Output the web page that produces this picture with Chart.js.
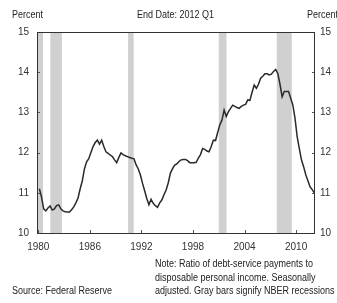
<!DOCTYPE html>
<html>
<head>
<meta charset="utf-8">
<script src="https://cdn.jsdelivr.net/npm/chart.js@4"></script>
<style>
    body { margin: 0; background: #fff; }
    #wrap { position: relative; width: 337px; height: 303px; overflow: hidden; font-family: 'Liberation Sans Narrow', 'Liberation Sans', sans-serif; color: #222; }
    canvas { position: absolute; left: 0; top: 0; }
    .txt { position: absolute; font-size: 10px; line-height: 13.7px; white-space: nowrap; transform: scaleX(0.9); transform-origin: left top; }
</style>
</head>
<body>
<div id="wrap">
    <canvas id="chart" width="337" height="303"></canvas>
    <div class="txt" style="left:12px; top:8px;">Percent</div>
    <div class="txt" style="left:137px; top:8px;">End Date: 2012 Q1</div>
    <div class="txt" style="left:307px; top:8px;">Percent</div>
    <div class="txt" style="left:155px; top:257px;">Note: Ratio of debt-service payments to<br>disposable personal income. Seasonally<br>adjusted. Gray bars signify NBER recessions</div>
    <div class="txt" style="left:12px; top:284px;">Source: Federal Reserve</div>
</div>
<script>
// quarterly values, 1980 Q1 .. 2012 Q1
const startYear = 1980;
const debtService = [
    11.1, 10.9, 10.6, 10.55,
    10.62, 10.67, 10.57, 10.6,
    10.68, 10.7, 10.6, 10.55,
    10.53, 10.52, 10.52, 10.58,
    10.65, 10.75, 10.87, 11.1,
    11.3, 11.6, 11.77, 11.85,
    12.0, 12.15, 12.25, 12.31,
    12.21, 12.31, 12.15, 12.02,
    11.98, 11.94, 11.9, 11.82,
    11.75, 11.88, 11.99, 11.95,
    11.92, 11.9, 11.88, 11.86,
    11.85, 11.7, 11.6, 11.45,
    11.24, 11.05, 10.86, 10.7,
    10.84, 10.74, 10.68, 10.64,
    10.75, 10.82, 10.95, 11.07,
    11.25, 11.49, 11.6, 11.69,
    11.72, 11.78, 11.82, 11.83,
    11.83, 11.8, 11.75, 11.75,
    11.75, 11.76, 11.86, 11.95,
    12.1, 12.08, 12.04, 12.02,
    12.15, 12.31, 12.3, 12.5,
    12.69, 12.81, 13.06, 12.9,
    13.02, 13.1, 13.18, 13.15,
    13.12, 13.1, 13.15, 13.18,
    13.2, 13.31, 13.3, 13.5,
    13.68, 13.6, 13.7, 13.85,
    13.9, 13.96, 13.96, 13.93,
    13.95, 14.02, 14.07, 13.97,
    13.7, 13.39, 13.52, 13.52,
    13.52, 13.35, 13.18, 12.85,
    12.4, 12.1, 11.82, 11.65,
    11.45, 11.3, 11.15, 11.08,
    11.0
];
// NBER recessions (fractional years)
const recessionStart = [1979.9, 1981.4, 1990.45, 2001.0, 2007.75];
const recessionEnd = [1980.55, 1982.75, 1991.1, 2001.9, 2009.5];
const yearTicks = [1980, 1986, 1992, 1998, 2004, 2010];
const pctTicks = [10, 11, 12, 13, 14, 15];

const points = debtService.map((v, i) => ({ x: startYear + i / 4 + 0.125, y: v }));

const recessionBars = {
    id: 'recessionBars',
    beforeDatasetsDraw(chart) {
        const { ctx, chartArea, scales } = chart;
        ctx.save();
        ctx.fillStyle = '#d0d0d0';
        for (let i = 0; i < recessionStart.length; i++) {
            const x0 = Math.max(scales.x.getPixelForValue(recessionStart[i]), chartArea.left);
            const x1 = scales.x.getPixelForValue(recessionEnd[i]);
            ctx.fillRect(x0, chartArea.top, x1 - x0, chartArea.bottom - chartArea.top);
        }
        ctx.restore();
    }
};

// small tick marks pointing into the plot, plus the frame
const frame = {
    id: 'frame',
    afterDatasetsDraw(chart) {
        const { ctx, chartArea, scales } = chart;
        ctx.save();
        ctx.strokeStyle = '#555';
        ctx.lineWidth = 1;
        ctx.beginPath();
        yearTicks.forEach(t => {
            const x = Math.round(scales.x.getPixelForValue(t)) + 0.5;
            ctx.moveTo(x, chartArea.bottom);
            ctx.lineTo(x, chartArea.bottom - 3);
        });
        pctTicks.forEach(t => {
            const y = Math.round(scales.y.getPixelForValue(t)) + 0.5;
            ctx.moveTo(chartArea.left, y);
            ctx.lineTo(chartArea.left + 3, y);
            ctx.moveTo(chartArea.right, y);
            ctx.lineTo(chartArea.right - 3, y);
        });
        ctx.stroke();
        ctx.strokeStyle = '#333';
        ctx.strokeRect(chartArea.left + 0.5, chartArea.top + 0.5, chartArea.right - chartArea.left - 1, chartArea.bottom - chartArea.top);
        ctx.restore();
    }
};

const tickFont = { family: "'Liberation Sans Narrow', 'Liberation Sans', sans-serif", size: 10 };

new Chart(document.getElementById('chart'), {
    type: 'line',
    data: {
        datasets: [{
            data: points,
            borderColor: '#2a2a2a',
            borderWidth: 1.5,
            pointRadius: 0,
            tension: 0,
            fill: false
        }]
    },
    options: {
        responsive: false,
        animation: false,
        layout: { padding: { top: 32, bottom: 45, left: 0, right: 0 } },
        plugins: { legend: { display: false }, tooltip: { enabled: false } },
        scales: {
            x: {
                type: 'linear',
                min: 1979.85,
                max: 2012.2,
                afterBuildTicks: s => { s.ticks = yearTicks.map(v => ({ value: v })); },
                ticks: { color: '#333', font: tickFont, padding: 8, callback: v => String(v) },
                grid: { display: false, drawTicks: false },
                border: { display: false },
                afterFit: s => { s.height = 25; }
            },
            y: {
                position: 'left',
                min: 10,
                max: 15,
                afterBuildTicks: s => { s.ticks = pctTicks.map(v => ({ value: v })); },
                ticks: { color: '#333', font: tickFont, padding: 8 },
                grid: { display: false, drawTicks: false },
                border: { display: false },
                afterFit: s => { s.width = 37; }
            },
            y2: {
                position: 'right',
                min: 10,
                max: 15,
                afterBuildTicks: s => { s.ticks = pctTicks.map(v => ({ value: v })); },
                ticks: { color: '#333', font: tickFont, padding: 5 },
                grid: { display: false, drawTicks: false },
                border: { display: false },
                afterFit: s => { s.width = 22; }
            }
        }
    },
    plugins: [recessionBars, frame]
});
</script>
</body>
</html>
